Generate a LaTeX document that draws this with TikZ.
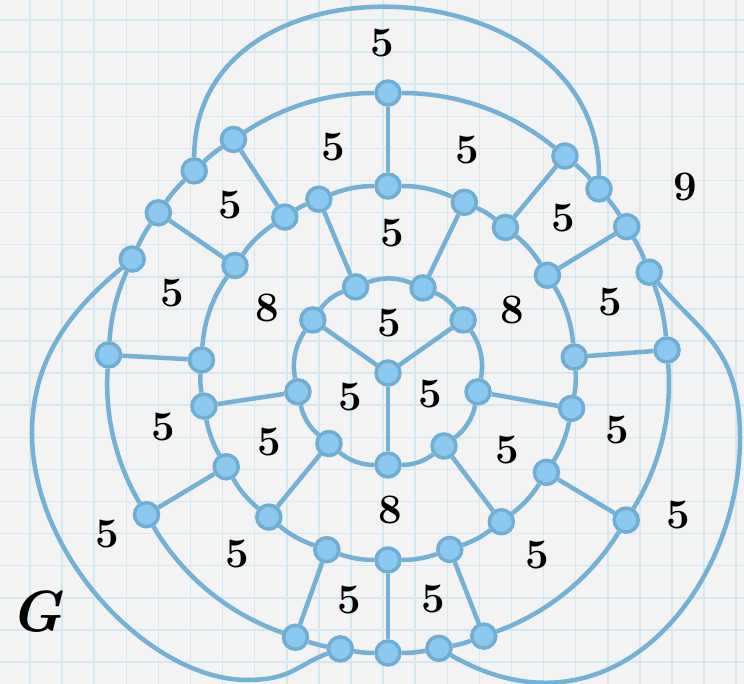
\documentclass[tikz,border=0pt]{standalone}
\usepackage{fontspec}
\usepackage{tikz}
\usetikzlibrary{backgrounds}
\usepackage{xcolor}

\definecolor{paper}{HTML}{F3F3F3}
\definecolor{gridblue}{HTML}{D5E8F0}
\definecolor{edgeblue}{HTML}{74B1D5}
\definecolor{vtxline}{HTML}{6FADD3}
\definecolor{vtxfill}{HTML}{8AC8F0}

\pgfdeclarelayer{gridlayer}
\pgfsetlayers{gridlayer,background,main}

\begin{document}
\begin{tikzpicture}[
    x=1pt, y=1pt,
    vtx/.style = {circle, draw=vtxline, fill=vtxfill, line width=3.5pt, minimum size=24pt, inner sep=0pt},
    link/.style = {draw=edgeblue, line width=4.5pt},
    ring/.style = {link, looseness=0.88},
    lbl/.style = {font=\fontsize{42}{42}\selectfont\bfseries, inner sep=0pt},
    gridline/.style = {draw=gridblue, line width=1.5pt}
]
\useasboundingbox (-388,-311) rectangle (356,373);

% Paper
\begin{pgfonlayer}{gridlayer}
\fill[paper] (-388,-311) rectangle (356,373);
\foreach \k in {0,...,22} \draw[gridline] ({-358+32.1*\k},-311) -- ++(0,684);
\foreach \k in {0,...,20} \draw[gridline] (-388,{353-32.1*\k}) -- ++(744,0);
\end{pgfonlayer}

% Vertices
\node[vtx] (c0) at (0,0) {};
\foreach \n/\a in {i1/110.6, i2/144.8, i3/191.8, i4/230.1, i5/270, i6/307.5, i7/348.2, i8/35.2, i9/67.6}
    \node[vtx] (\n) at (\a:92) {};
\foreach \n/\a in {m1/90, m2/111.7, m3/123.5, m4/144.9, m5/176, m6/190.2, m7/210.1, m8/230.4, m9/250.9,
                   m10/270, m11/289.3, m12/307.3, m13/327.9, m14/349.1, m15/4.9, m16/31.5, m17/51.1, m18/65.9}
    \node[vtx] (\n) at (\a:187) {};
\foreach \n/\a in {o1/90, o2/123.5, o3/133.8, o4/145.1, o5/156, o6/176.3, o7/210.4, o8/250.7, o9/260.2,
                   o10/270, o11/280.5, o12/290, o13/328.3, o14/4.7, o15/21.1, o16/31.5, o17/41.1, o18/50.8}
    \node[vtx] (\n) at (\a:280) {};

\coordinate (lloop) at (-356,-60);
\coordinate (lbot) at (-141,-307);
\coordinate (rloop) at (352,-65);

% Connections
\begin{scope}[on background layer]
\foreach \s/\t/\b in {i1/i2/17.1, i2/i3/23.5, i3/i4/19.15, i4/i5/19.95, i5/i6/18.75, i6/i7/20.35,
                      i7/i8/23.5, i8/i9/16.2, i9/i1/21.5}
    \draw[ring] (\s) to[bend right=\b] (\t);
\foreach \s/\t/\b in {m1/m2/10.85, m2/m3/5.9, m3/m4/10.7, m4/m5/15.55, m5/m6/7.1, m6/m7/9.95,
                      m7/m8/10.15, m8/m9/10.25, m9/m10/9.55, m10/m11/9.65, m11/m12/9, m12/m13/10.3,
                      m13/m14/10.6, m14/m15/7.9, m15/m16/13.3, m16/m17/9.8, m17/m18/7.4, m18/m1/12.05}
    \draw[ring] (\s) to[bend right=\b] (\t);
\foreach \s/\t/\b in {o1/o2/16.75, o2/o3/5.15, o3/o4/5.65, o4/o5/5.45, o5/o6/10.15, o6/o7/17.05,
                      o7/o8/20.15, o8/o9/4.75, o9/o10/4.9, o10/o11/5.25, o11/o12/4.75, o12/o13/19.15,
                      o13/o14/18.2, o14/o15/8.2, o15/o16/5.2, o16/o17/4.8, o17/o18/4.85, o18/o1/19.6}
    \draw[ring] (\s) to[bend right=\b] (\t);
\foreach \s/\t in {c0/i2, c0/i8, c0/i5, m2/i1, m6/i3, m8/i4, m12/i6, m14/i7, m18/i9,
                   o1/m1, o2/m3, o4/m4, o6/m5, o7/m7, o8/m9, o10/m10, o12/m11, o13/m13,
                   o14/m15, o16/m16, o18/m17}
    \draw[link] (\s) -- (\t);
\draw[link] (o3) .. controls +(0,226) and +(0,226) .. (o17);
\draw[link] (o5) .. controls +(220:70) and +(0,80) .. (lloop) .. controls +(0,-125) and +(-95,0) .. (lbot)
    .. controls +(45,0) and +(200:45) .. (o9);
\draw[link] (o15) .. controls +(-50:80) and +(0,90) .. (rloop) .. controls +(0,-150) and +(-30:200) .. (o11);
\end{scope}

% Face sizes
\node[lbl] (f1) at (-6,330) {5};
\node[lbl] (f2) at (-55,226) {5};
\node[lbl] (f3) at (79,223) {5};
\node[lbl] (f4) at (-158,168) {5};
\node[lbl] (f5) at (175,155) {5};
\node[lbl] (f6) at (4,140) {5};
\node[lbl] (f7) at (-216,80) {5};
\node[lbl] (f8) at (-121,65) {8};
\node[lbl] (f9) at (1,50) {5};
\node[lbl] (f10) at (124,63) {8};
\node[lbl] (f11) at (222,71) {5};
\node[lbl] (f12) at (297,186) {9};
\node[lbl] (f13) at (-225,-54) {5};
\node[lbl] (f14) at (-119,-69) {5};
\node[lbl] (f15) at (-38,-24) {5};
\node[lbl] (f16) at (42,-21) {5};
\node[lbl] (f17) at (229,-57) {5};
\node[lbl] (f18) at (119,-77) {5};
\node[lbl] (f19) at (2,-137) {8};
\node[lbl] (f20) at (-281,-161) {5};
\node[lbl] (f21) at (-151,-181) {5};
\node[lbl] (f22) at (149,-182) {5};
\node[lbl] (f23) at (290,-142) {5};
\node[lbl] (f24) at (-39,-227) {5};
\node[lbl] (f25) at (45,-226) {5};
\node[font=\fontsize{58}{58}\selectfont\bfseries\itshape, inner sep=0pt] (gname) at (-352,-239) {G};

\end{tikzpicture}
\end{document}
